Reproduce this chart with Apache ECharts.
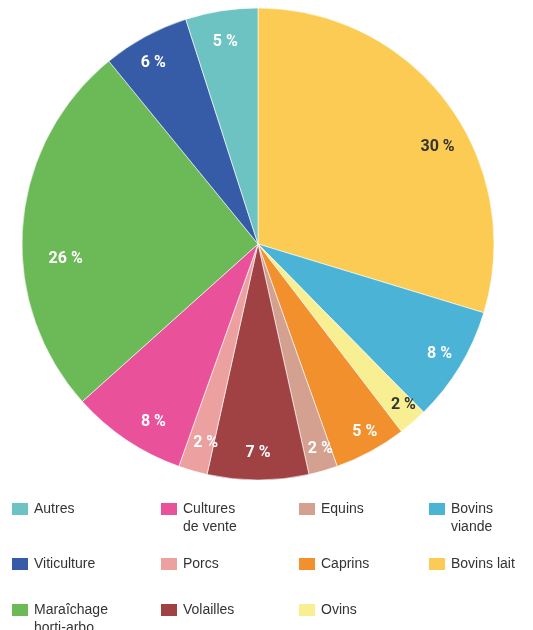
<!DOCTYPE html>
<html>
<head>
<meta charset="utf-8">
<script src="https://cdn.jsdelivr.net/npm/echarts@6/dist/echarts.min.js"></script>
<style>
  html, body { margin: 0; padding: 0; background: #ffffff; }
  #chart { width: 533px; height: 630px; }
</style>
</head>
<body>
<div id="chart"></div>
<script>
// Farm types, clockwise from 12 o'clock
const categories = ['Bovins lait', 'Bovins viande', 'Ovins', 'Caprins', 'Equins', 'Volailles',
                    'Porcs', 'Cultures de vente', 'Maraîchage horti-arbo', 'Viticulture', 'Autres'];
// Share of farms, in percent
const shares = [30, 8, 2, 5, 2, 7, 2, 8, 26, 6, 5];
const sliceColors = ['#fbcb53', '#4ab3d6', '#f7ef91', '#f1902d', '#d4a08f', '#a04243',
                     '#eca0a0', '#e9529b', '#6bb957', '#365ca8', '#6cc3c1'];
const labelColors = ['#333333', '#ffffff', '#333333', '#ffffff', '#ffffff', '#ffffff',
                     '#ffffff', '#ffffff', '#ffffff', '#ffffff', '#ffffff'];
// Small pixel nudges of each percentage label away from the slice mid-line
const labelNudge = [[10, 29], [1, 1], [7, 2], [6, 3], [4, 2], [0, -2],
                    [6, -4], [13, 3], [18, 31], [-4, 4], [0, 6]];

// Legend grid, column by column
const legendColumns = [
  ['Autres', 'Viticulture', 'Maraîchage horti-arbo'],
  ['Cultures de vente', 'Porcs', 'Volailles'],
  ['Equins', 'Caprins', 'Ovins'],
  ['Bovins viande', 'Bovins lait']
];
// Wrapped legend text; the leading blank line keeps the icon level with the first line
const legendText = {
  'Cultures de vente': '\u00a0\nCultures\nde vente',
  'Maraîchage horti-arbo': '\u00a0\nMaraîchage\nhorti-arbo',
  'Bovins viande': '\u00a0\nBovins\nviande'
};

const colLeft = [10, 159, 297, 427];
const rowIconTop = [502, 557, 603];

const CENTER = [258, 244];
const RADIUS = 236;

const pieData = categories.map((name, i) => ({
  name: name,
  value: shares[i],
  itemStyle: { color: sliceColors[i] }
}));

const labelData = categories.map((name, i) => ({
  name: name,
  value: shares[i],
  label: { color: labelColors[i], offset: labelNudge[i] }
}));

const legends = [];
legendColumns.forEach((col, c) => {
  col.forEach((name, r) => {
    const twoLines = !!legendText[name];
    legends.push({
      data: [name],
      orient: 'vertical',
      left: colLeft[c],
      top: rowIconTop[r] - (twoLines ? 20 : 2),
      padding: 0,
      itemWidth: 18,
      itemHeight: 14,
      icon: 'rect',
      selectedMode: false,
      formatter: n => legendText[n] || n,
      textStyle: {
        fontFamily: 'Liberation Sans',
        fontSize: 14,
        lineHeight: 18,
        color: '#333333'
      }
    });
  });
});

const chart = echarts.init(document.getElementById('chart'), null, { renderer: 'canvas' });
chart.setOption({
  animation: false,
  backgroundColor: '#ffffff',
  legend: legends,
  series: [
    {
      type: 'pie',
      center: CENTER,
      radius: [0, RADIUS],
      startAngle: 90,
      clockwise: true,
      silent: true,
      label: { show: false },
      labelLine: { show: false },
      itemStyle: { borderColor: '#ffffff', borderWidth: 0.6 },
      data: pieData
    },
    {
      // transparent ring that carries the percentage labels near the rim
      type: 'pie',
      center: CENTER,
      radius: [180, RADIUS],
      startAngle: 90,
      clockwise: true,
      silent: true,
      itemStyle: { color: 'rgba(0,0,0,0)', borderWidth: 0 },
      label: {
        show: true,
        position: 'inside',
        formatter: p => p.value + ' %',
        fontFamily: 'Roboto',
        fontWeight: 'bold',
        fontSize: 16
      },
      labelLine: { show: false },
      emphasis: { disabled: true },
      data: labelData
    }
  ]
});
</script>
</body>
</html>
